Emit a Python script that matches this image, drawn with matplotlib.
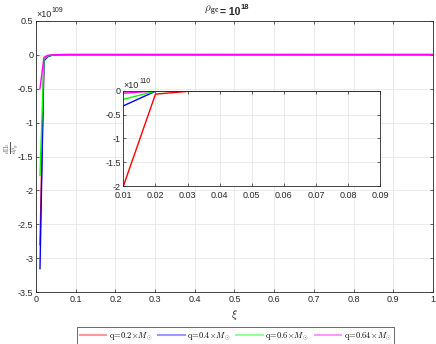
import numpy as np
import matplotlib
matplotlib.use('Agg')
import matplotlib.pyplot as plt

plt.rcParams['font.family'] = ['Liberation Sans', 'DejaVu Sans']
plt.rcParams['mathtext.fontset'] = 'cm'

# xi grid points
xi = [0.01, 0.02, 0.03, 0.04, 0.05, 0.06, 0.08, 0.1, 1.0]
# main panel, units of 1e109
red_main = [-2.8, -0.07, -0.02, -0.008, -0.003, -0.001, 0.0, 0.0, 0.0]
blue_main = [-3.15, -0.09, -0.03, -0.01, -0.004, -0.001, 0.0, 0.0, 0.0]
green_main = [-1.78, -0.07, -0.02, -0.008, -0.003, -0.001, 0.0, 0.0, 0.0]
magenta_main = [-0.5, -0.04, -0.01, -0.004, -0.001, 0.0, 0.0, 0.0, 0.0]
# inset panel, units of 1e110
red_ins = [-2.0, -0.07, -0.012, -0.004, -0.0015, -0.0006, 0.0, 0.0, 0.0]
blue_ins = [-0.315, -0.009, -0.003, -0.001, 0.0, 0.0, 0.0, 0.0, 0.0]
green_ins = [-0.178, -0.007, -0.002, -0.0008, 0.0, 0.0, 0.0, 0.0, 0.0]
magenta_ins = [-0.05, -0.004, -0.001, 0.0, 0.0, 0.0, 0.0, 0.0, 0.0]

labels = [r'$\mathrm{q\!=\!0.2}\!\times\! M_{\odot}$',
          r'$\mathrm{q\!=\!0.4}\!\times\! M_{\odot}$',
          r'$\mathrm{q\!=\!0.6}\!\times\! M_{\odot}$',
          r'$\mathrm{q\!=\!0.64}\!\times\! M_{\odot}$']
colors = ['#ff0000', '#0000ff', '#00ff00', '#ff00ff']
main_series = [red_main, blue_main, green_main, magenta_main]
ins_series = [red_ins, blue_ins, green_ins, magenta_ins]

main_yticks = [-3.5, -3, -2.5, -2, -1.5, -1, -0.5, 0, 0.5]
main_xticks = [0, 0.1, 0.2, 0.3, 0.4, 0.5, 0.6, 0.7, 0.8, 0.9, 1]
inset_xticks = [0.01, 0.02, 0.03, 0.04, 0.05, 0.06, 0.07, 0.08, 0.09]
inset_yticks = [-2, -1.5, -1, -0.5, 0]

axcol = '#262626'
gridcol = '#e6e6e6'


def style_axes(ax, fs):
    ax.grid(True, color=gridcol, linewidth=0.6)
    ax.set_axisbelow(True)
    for s in ax.spines.values():
        s.set_color(axcol)
        s.set_linewidth(0.6)
    ax.tick_params(direction='in', length=2.5, width=0.5, colors=axcol,
                   labelsize=fs, top=True, right=True, pad=2)


def sci_label(ax, exp):
    # MATLAB style exponent above the y axis
    base = ax.text(0.0, 1.005, '×10', transform=ax.transAxes, fontsize=6.5,
                   color=axcol, va='bottom', ha='left')
    ax.annotate(exp, xy=(1.0, 0.55), xycoords=base, xytext=(0.5, 0),
                textcoords='offset points', fontsize=5, color=axcol,
                va='bottom', ha='left')


fig = plt.figure(figsize=(4.36, 3.44), dpi=100)
ax = fig.add_axes([0.0826, 0.150, 0.9104, 0.790])
lines = []
for vals, c, lab in zip(main_series, colors, labels):
    ln, = ax.plot(xi, vals, color=c, linewidth=1.0, label=lab)
    lines.append(ln)
ax.set_xlim(0, 1)
ax.set_ylim(-3.5, 0.5)
ax.set_xticks(main_xticks)
ax.set_yticks(main_yticks)
ax.set_xticklabels(['%g' % t for t in main_xticks])
ax.set_yticklabels(['%g' % t for t in main_yticks])
style_axes(ax, 6.5)
ax.set_xlabel(r'$\xi$', fontsize=8, color=axcol, labelpad=3)
fig.text(0.028, 0.57, r'$\frac{d\Pi_1}{d\rho_{gc}}$', fontsize=6,
         color='#555555', rotation=90, ha='center', va='center')

# title: rho_gc = 10^18
rho = fig.text(0.468, 0.948, r'$\rho$' + '$_{\\mathbf{gc}}$', fontsize=8,
               color=axcol, ha='left', va='bottom')
eq = ax.annotate('= 10', xy=(1.0, 0.05), xycoords=rho, xytext=(0.5, 0),
                 textcoords='offset points', fontsize=7.5, fontweight='bold',
                 color=axcol, ha='left', va='bottom')
ax.annotate('18', xy=(1.0, 0.6), xycoords=eq, xytext=(0.3, 0),
            textcoords='offset points', fontsize=5.5, fontweight='bold',
            color=axcol, ha='left', va='bottom')
sci_label(ax, '109')

# inset zoom
ins = fig.add_axes([0.283, 0.459, 0.589, 0.277])
for vals, c in zip(ins_series, colors):
    ins.plot(xi, vals, color=c, linewidth=1.0)
ins.set_xlim(0.01, 0.09)
ins.set_ylim(-2, 0)
ins.set_xticks(inset_xticks)
ins.set_yticks(inset_yticks)
ins.set_xticklabels(['%g' % t for t in inset_xticks])
ins.set_yticklabels(['%g' % t for t in inset_yticks])
style_axes(ins, 6.5)
ins.tick_params(axis='x', pad=3.5)
ins.set_facecolor('white')
sci_label(ins, '110')

leg = fig.legend(handles=lines, loc='center', bbox_to_anchor=(0.540, 0.0235),
                 ncol=4, fontsize=6, frameon=True, fancybox=False,
                 handlelength=3.2, handletextpad=0.3, columnspacing=0.7,
                 borderpad=0.3, borderaxespad=0)
leg.get_frame().set_edgecolor(axcol)
leg.get_frame().set_linewidth(0.6)
for h in leg.legend_handles:
    h.set_alpha(0.4)
    h.set_linewidth(1.5)

fig.savefig('out.png', dpi=100)
